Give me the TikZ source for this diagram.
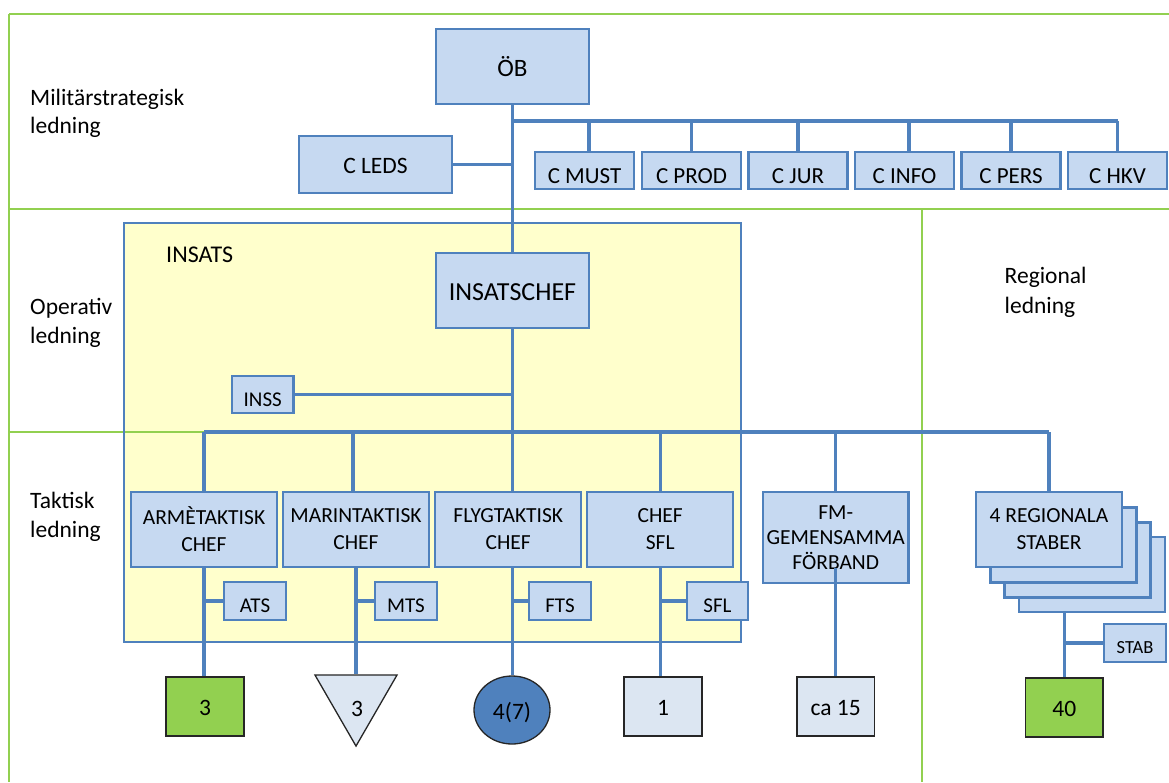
\documentclass[tikz,border=0pt]{standalone}
\usepackage{fontspec}
\setmainfont{Carlito}
\usetikzlibrary{shapes.geometric}
\definecolor{boxfill}{HTML}{C6D9F1}
\definecolor{boxline}{HTML}{4F81BD}
\definecolor{grn}{HTML}{92D050}
\definecolor{yel}{HTML}{FFFFCC}
\definecolor{pale}{HTML}{DCE6F2}
\definecolor{edge}{HTML}{262626}
\newcommand{\fsz}[1]{\fontsize{#1}{27}\selectfont}
\begin{document}
\begin{tikzpicture}[x=1pt,y=-1pt,
  box/.style={draw=boxline, fill=boxfill, line width=2.2pt, inner sep=0pt, align=center},
  cbox/.style={box, minimum width=99pt, minimum height=37pt, font=\fsz{23}, text height=25pt, text depth=0pt},
  chef/.style={box, minimum width=146pt, minimum height=75pt, font=\fsz{21.5}},
  sbox/.style={box, minimum width=62pt, minimum height=38pt, font=\fsz{21}, text height=22pt, text depth=0pt},
  conn/.style={draw=boxline, line width=3.3pt},
  zone/.style={draw=grn, line width=2.4pt},
  lbl/.style={anchor=base west, inner sep=0pt, font=\fsz{23.5}},
  numsq/.style={draw=edge, line width=1.3pt, inner sep=0pt, minimum width=78pt, minimum height=59pt, font=\fsz{23.5}, text height=17pt, text depth=0pt},
]
\useasboundingbox (0,0) rectangle (1169,782);
\fill[white] (0,0) rectangle (1169,782);

% INSATS area
\node[fill=yel, minimum width=617pt, minimum height=419pt, inner sep=0pt] (insats) at (432.5,432.5) {};

% level zones
\draw[zone] (9,14) -- (1169,14);
\draw[zone] (9,209) -- (1169,209);
\draw[zone] (9,14) -- (9,782);
\draw[zone] (9,432) -- (922,432);
\draw[zone] (922,209) -- (922,782);

\draw[boxline, line width=2.2pt] (insats.north west) rectangle (insats.south east);
\node[anchor=base west, inner sep=0pt, font=\fsz{24}] (insatslbl) at (166,262) {INSATS};

% level labels
\node[lbl] (l1a) at (30,105) {Militärstrategisk};
\node[lbl] (l1b) at (30,133) {ledning};
\node[lbl] (l2a) at (30,314) {Operativ};
\node[lbl] (l2b) at (30,343) {ledning};
\node[lbl] (l3a) at (30,508) {Taktisk};
\node[lbl] (l3b) at (30,537) {ledning};
\node[lbl] (l4a) at (1004.5,283) {Regional};
\node[lbl] (l4b) at (1004.5,313) {ledning};

% strategic level
\node[box, minimum width=153pt, minimum height=75pt, font=\fsz{25}, text height=19pt, text depth=0pt] (ob) at (512.5,66.5) {ÖB};
\node[box, minimum width=153pt, minimum height=57pt, font=\fsz{23.5}, text height=17pt, text depth=0pt] (cleds) at (375.5,164.5) {C LEDS};
\node[cbox] (cmust) at (584.5,170.5) {C MUST};
\node[cbox] (cprod) at (691.5,170.5) {C PROD};
\node[cbox] (cjur) at (798,170.5) {C JUR};
\node[cbox] (cinfo) at (904.5,170.5) {C INFO};
\node[cbox] (cpers) at (1011,170.5) {C PERS};
\node[cbox] (chkv) at (1117.5,170.5) {C HKV};

% operative level
\node[box, minimum width=153pt, minimum height=75pt, font=\fsz{26}, text height=19pt, text depth=0pt] (ichef) at (512.5,290.5) {INSATSCHEF};
\node[box, minimum width=61.5pt, minimum height=37pt, font=\fsz{21}, text height=23pt, text depth=0pt] (inss) at (262.75,394.5) {INSS};

% tactical level
\node[chef] (arme) at (204,529.5) {ARMÈTAKTISK\\CHEF};
\node[chef] (marin) at (356,529.5) {MARINTAKTISK\\CHEF};
\node[chef] (flyg) at (508.25,529.5) {FLYGTAKTISK\\CHEF};
\node[chef] (csfl) at (660.25,529.5) {CHEF\\SFL};
\node[chef, minimum width=145.5pt, minimum height=91pt, font=\fontsize{21.5}{25}\selectfont] (fm) at (835.75,537.5) {FM-\\GEMENSAMMA\\FÖRBAND};
\node[chef] (reg4) at (1092,574.5) {};
\node[chef] (reg3) at (1077.5,560) {};
\node[chef] (reg2) at (1063.5,545) {};
\node[chef] (reg1) at (1049,529.5) {4 REGIONALA\\STABER};

\node[sbox] (ats) at (255,601) {ATS};
\node[sbox] (mts) at (406,601) {MTS};
\node[sbox] (fts) at (560,601) {FTS};
\node[sbox, minimum width=61pt] (sfl) at (717.5,601) {SFL};
\node[sbox, font=\fsz{18.5}, text height=20pt] (stab) at (1135,643) {STAB};

% units
\node[numsq, fill=grn] (g3) at (205,706.5) {3};
\node[draw=edge, fill=pale, line width=1.3pt, regular polygon, regular polygon sides=3, shape border rotate=180, minimum size=94.7pt, inner sep=0pt] (tri) at (356,698.7) {};
\node[font=\fsz{23.5}, inner sep=0pt, anchor=base] (tri3) at (357,716) {3};
\node[draw=edge, fill=boxline, line width=1.3pt, ellipse, minimum width=76pt, minimum height=68pt, inner sep=0pt, font=\fsz{23.5}, text height=18pt, text depth=0pt] (circ) at (512,710) {4(7)};
\node[numsq, fill=pale] (s1) at (663,706.5) {1};
\node[numsq, fill=pale, minimum width=77.5pt] (s15) at (835.75,706.5) {ca 15};
\node[numsq, fill=grn, minimum width=77.5pt] (g40) at (1064.25,707.5) {40};

% connectors
\coordinate (bus) at (513,121);
\coordinate (tb) at (513,432);
\draw[conn] (ob.south) -- (ichef.north);
\draw[conn] (cleds.east) -- (cleds.east -| ob.south);
\draw[conn] (bus) -- (bus -| chkv.north);
\draw[conn] ([xshift=4.5pt]cmust.north |- bus) -- ([xshift=4.5pt]cmust.north);
\foreach \n in {cprod,cjur,cpers,chkv} \draw[conn] (\n.north |- bus) -- (\n.north);
\draw[conn] ([xshift=4.5pt]cinfo.north |- bus) -- ([xshift=4.5pt]cinfo.north);
\draw[conn] (inss.east) -- (inss.east -| ichef.south);
\draw[conn] (ichef.south) -- (ichef.south |- flyg.north);
\draw[conn] (tb -| arme.north) -- (tb -| reg1.north);
\foreach \n in {arme,csfl,fm,reg1} \draw[conn] (tb -| \n.north) -- (\n.north);
\draw[conn] ([xshift=-3pt]tb -| marin.north) -- ([xshift=-3pt]marin.north);

\draw[conn] (arme.south) -- (arme.south |- g3.north);
\draw[conn] (ats.west) -- (ats.west -| arme.south);
\draw[conn] (marin.south) -- (marin.south |- tri.north);
\draw[conn] (mts.west) -- (mts.west -| marin.south);
\draw[conn] (flyg.south -| ichef.south) -- (ichef.south |- circ.north);
\draw[conn] (fts.west) -- (fts.west -| ichef.south);
\draw[conn] (csfl.south) -- (csfl.south |- s1.north);
\draw[conn] (sfl.west) -- (sfl.west -| csfl.south);
\draw[conn] ([yshift=16pt]fm.south) -- (fm.south |- s15.north);
\draw[conn] (g40.north |- reg4.south) -- (g40.north);
\draw[conn] (stab.west) -- (stab.west -| g40.north);
\end{tikzpicture}
\end{document}
